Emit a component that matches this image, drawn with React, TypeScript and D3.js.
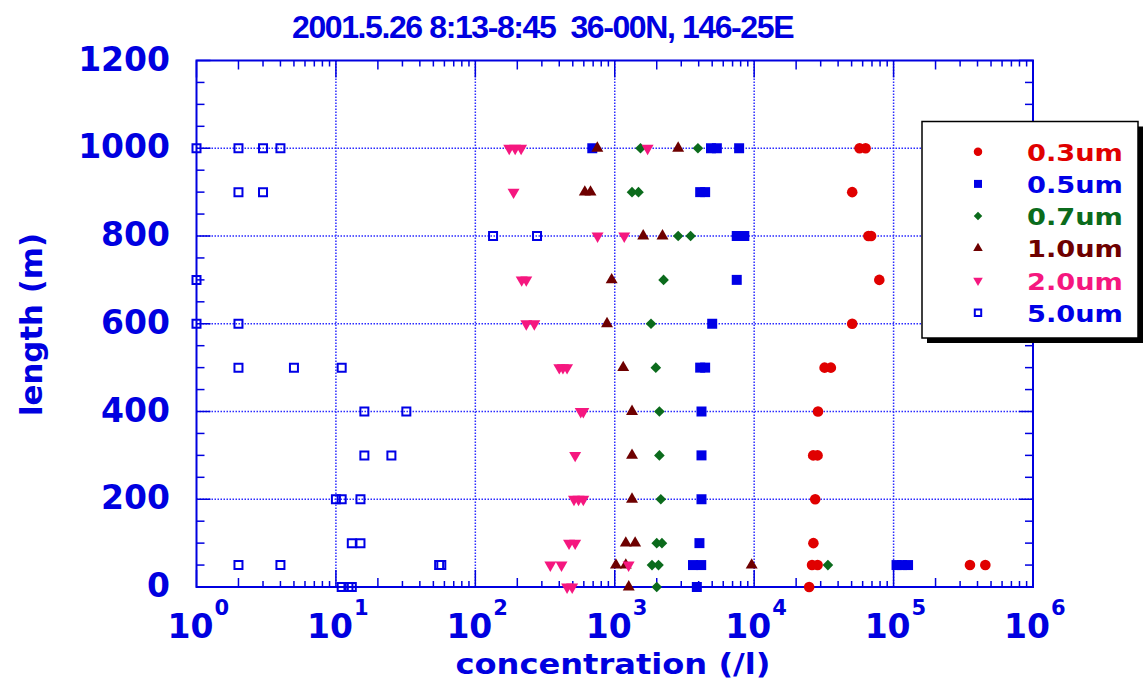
import React from "react";
import * as d3 from "d3";

// legend entries (particle size)
const sizeLabels = ["0.3um", "0.5um", "0.7um", "1.0um", "2.0um", "5.0um"];
const sizeColors = ["#e00000", "#0000e6", "#0b6b1c", "#6e0000", "#f5177f", "#0000e6"];
const sizeShapes = ["circle", "square", "diamond", "up", "down", "open"];

const yTickValues = [0, 200, 400, 600, 800, 1000, 1200];
const yGridValues = [200, 400, 600, 800, 1000];
const xDecades = [0, 1, 2, 3, 4, 5, 6];
const xGridDecades = [1, 2, 3, 4, 5];

// [length (m), concentration (/l)]
const um03: [number, number][] = [
  [1000, 57000], [1000, 63000], [900, 50500], [800, 66000], [800, 69000],
  [700, 79000], [600, 50500], [500, 32000], [500, 35500], [400, 28700],
  [300, 26500], [300, 28500], [200, 27400], [100, 26600], [50, 26000],
  [50, 28500], [50, 353000], [50, 455000], [0, 24800],
];
const um05: [number, number][] = [
  [1000, 690], [1000, 4900], [1000, 5400], [1000, 7800], [900, 4100], [900, 4450],
  [800, 7500], [800, 8500], [700, 7500], [600, 5000], [500, 4100], [500, 4450],
  [400, 4190], [300, 4190], [200, 4190], [100, 4050], [50, 3640], [50, 4170],
  [50, 105000], [50, 115000], [50, 127000], [0, 3880],
];
const um07: [number, number][] = [
  [1000, 1530], [1000, 3950], [900, 1330], [900, 1480], [800, 2850], [800, 3500],
  [700, 2240], [600, 1820], [500, 1970], [400, 2090], [300, 2090], [200, 2140],
  [100, 2000], [100, 2180], [50, 1850], [50, 2060], [50, 33800], [0, 2000],
];
const um10: [number, number][] = [
  [1000, 750], [1000, 2850], [900, 610], [900, 670], [800, 1600], [800, 2200],
  [700, 950], [600, 880], [500, 1150], [400, 1330], [300, 1330], [200, 1330],
  [100, 1200], [100, 1400], [50, 1020], [50, 1200], [50, 9600], [0, 1260],
];
const um20: [number, number][] = [
  [1000, 175], [1000, 193], [1000, 213], [1000, 1720], [900, 188], [800, 753],
  [800, 1170], [700, 215], [700, 232], [600, 232], [600, 265], [500, 400],
  [500, 425], [500, 455], [400, 570], [400, 595], [300, 520], [200, 510],
  [200, 550], [200, 595], [100, 470], [100, 520], [50, 345], [50, 415],
  [50, 1257], [0, 455], [0, 495],
];
const um50: [number, number][] = [
  [1000, 1], [1000, 2], [1000, 3], [1000, 4], [900, 2], [900, 3], [800, 134],
  [800, 277], [700, 1], [600, 1], [600, 2], [500, 2], [500, 5], [500, 11],
  [400, 16], [400, 32], [300, 16], [300, 25], [200, 10], [200, 11], [200, 15],
  [100, 13], [100, 15], [50, 2], [50, 4], [50, 55], [50, 57], [0, 11], [0, 12.3], [0, 13],
];
const allSeries = [um03, um05, um07, um10, um20, um50];

const W = 1144;
const H = 690;
const left = 196.5, right = 1033, top = 60.5, bottom = 587;
const axisBlue = "#0000e0";
const font = "'DejaVu Sans', sans-serif";

const x = d3.scaleLog().domain([1, 1e6]).range([left, right]);
const y = d3.scaleLinear().domain([0, 1200]).range([bottom, top]);

function markerPath(shape: string, scale = 1) {
  const s2 = scale * scale;
  switch (shape) {
    case "circle":
      return d3.symbol(d3.symbolCircle, 88 * s2)()!;
    case "square":
      return d3.symbol(d3.symbolSquare, 100 * s2)()!;
    case "diamond":
      return d3.symbol(d3.symbolDiamond2, 72 * s2)()!;
    case "up":
    case "down":
      return d3.symbol(d3.symbolTriangle, 62 * s2)()!;
    default:
      return d3.symbol(d3.symbolSquare, 64 * s2)()!;
  }
}

function Marker({ shape, color, cx, cy, scale = 1 }: any) {
  const d = markerPath(shape, scale);
  const rot = shape === "down" ? " rotate(180)" : "";
  if (shape === "open") {
    return (
      <path d={d} transform={`translate(${cx},${cy})`} fill="none" stroke={color} strokeWidth={2} />
    );
  }
  return <path d={d} transform={`translate(${cx},${cy})${rot}`} fill={color} />;
}

export default function App() {
  const yMinor = d3.range(0, 1201, 50);
  const xMinor: number[] = [];
  for (let e = 0; e < 6; e++) for (let k = 2; k <= 9; k++) xMinor.push(k * Math.pow(10, e));

  const legX = 922, legY = 121.5, legW = 216, legH = 216.5;

  return (
    <svg width={W} height={H} style={{ position: "absolute", left: 0, top: 0, background: "#fff" }}>
      <rect width={W} height={H} fill="#fff" />

      {/* title */}
      <text x={292} y={38} fontFamily="'Liberation Sans', Arial, sans-serif" fontWeight="bold"
        fontSize={32} letterSpacing={-1.4} fill={axisBlue} style={{ whiteSpace: "pre" }}>
        {"2001.5.26 8:13-8:45  36-00N, 146-25E"}
      </text>

      {/* dotted grid */}
      {yGridValues.map((v) => (
        <line key={"gy" + v} x1={left} x2={right} y1={y(v)} y2={y(v)}
          stroke="#2a2aff" strokeWidth={1.5} strokeDasharray="1.5,1.5" />
      ))}
      {xGridDecades.map((e) => (
        <line key={"gx" + e} x1={x(Math.pow(10, e))} x2={x(Math.pow(10, e))} y1={top} y2={bottom}
          stroke="#2a2aff" strokeWidth={1.5} strokeDasharray="1.5,1.5" />
      ))}

      {/* frame */}
      <rect x={left} y={top} width={right - left} height={bottom - top} fill="none"
        stroke={axisBlue} strokeWidth={2} />

      {/* y ticks, both sides */}
      {yMinor.map((v) => {
        const len = v % 200 === 0 ? 14 : 8;
        return (
          <g key={"yt" + v} stroke={axisBlue} strokeWidth={1.5}>
            <line x1={left} x2={left + len} y1={y(v)} y2={y(v)} />
            <line x1={right} x2={right - len} y1={y(v)} y2={y(v)} />
          </g>
        );
      })}

      {/* x ticks, top and bottom */}
      {xDecades.map((e) => {
        const px = x(Math.pow(10, e));
        return (
          <g key={"xt" + e} stroke={axisBlue} strokeWidth={1.5}>
            <line x1={px} x2={px} y1={bottom} y2={bottom - 17} />
            <line x1={px} x2={px} y1={top} y2={top + 17} />
          </g>
        );
      })}
      {xMinor.map((v) => {
        const len = String(v)[0] === "2" ? 9 : 6;
        return (
          <g key={"xm" + v} stroke={axisBlue} strokeWidth={1.5}>
            <line x1={x(v)} x2={x(v)} y1={bottom} y2={bottom - len} />
            <line x1={x(v)} x2={x(v)} y1={top} y2={top + len} />
          </g>
        );
      })}

      {/* y tick labels */}
      {yTickValues.map((v) => (
        <text key={"yl" + v} x={170} y={y(v) + 10} textAnchor="end" fontFamily={font}
          fontWeight="bold" fontSize={33} fill={axisBlue}>
          {v}
        </text>
      ))}

      {/* x tick labels 10^n */}
      {xDecades.map((e) => {
        const px = x(Math.pow(10, e));
        return (
          <g key={"xl" + e} fontFamily={font} fontWeight="bold" fill={axisBlue}>
            <text x={px + 17} y={638} textAnchor="end" fontSize={33}>10</text>
            <text x={px + 18} y={615} fontSize={21}>{e}</text>
          </g>
        );
      })}

      {/* axis titles */}
      <text x={613} y={674} textAnchor="middle" fontFamily={font} fontWeight="bold"
        fontSize={29} fill={axisBlue} textLength={315} lengthAdjust="spacingAndGlyphs">
        concentration (/l)
      </text>
      <text transform="translate(42,324.5) rotate(-90)" textAnchor="middle" fontFamily={font}
        fontWeight="bold" fontSize={30} fill={axisBlue} textLength={183} lengthAdjust="spacingAndGlyphs">
        length (m)
      </text>

      {/* data */}
      {allSeries.map((pts, si) => (
        <g key={"s" + si}>
          {pts.map(([h, c], i) => (
            <Marker key={i} shape={sizeShapes[si]} color={sizeColors[si]} cx={x(c)} cy={y(h)} />
          ))}
        </g>
      ))}

      {/* legend */}
      <rect x={legX + 5} y={legY + 5} width={legW} height={legH} fill="#000" />
      <rect x={legX} y={legY} width={legW} height={legH} fill="#fff" stroke="#000" strokeWidth={1.5} />
      {sizeLabels.map((lab, i) => {
        const ry = 151.7 + i * 32.2;
        return (
          <g key={"lg" + i}>
            <Marker shape={sizeShapes[i]} color={sizeColors[i]} cx={978} cy={ry} scale={0.8} />
            <text x={1027} y={ry + 9} fontFamily={font} fontWeight="bold" fontSize={23}
              fill={sizeColors[i]} textLength={96} lengthAdjust="spacingAndGlyphs">
              {lab}
            </text>
          </g>
        );
      })}
    </svg>
  );
}
